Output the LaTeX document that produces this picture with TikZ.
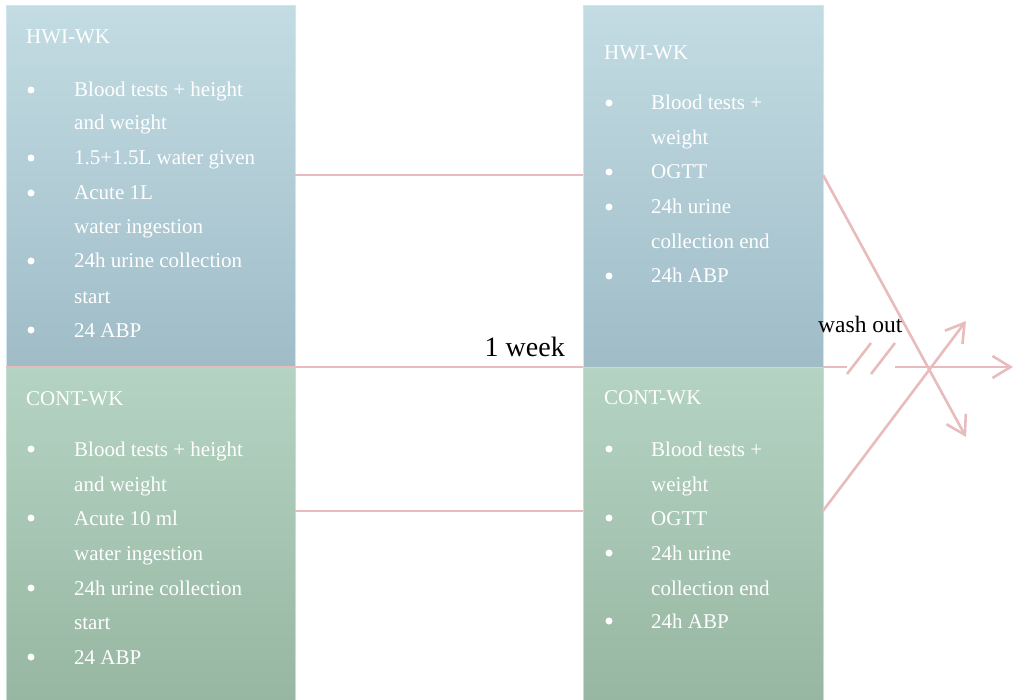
\documentclass[tikz,border=0pt]{standalone}
\usepackage{fontspec}
\setmainfont{Liberation Serif}
\usetikzlibrary{calc,arrows.meta}
\definecolor{blueT}{HTML}{C3DCE3}
\definecolor{blueB}{HTML}{9FBCC7}
\definecolor{blueE}{HTML}{CFE6EC}
\definecolor{greenT}{HTML}{B5D3C2}
\definecolor{greenB}{HTML}{97B7A2}
\definecolor{greenE}{HTML}{C4DFD0}
\definecolor{pinkline}{HTML}{E8BCBD}
\tikzset{
  blk/.style={anchor=north west,inner sep=0pt,outer sep=0pt,minimum width=#1},
  bluebox/.style={top color=blueT,bottom color=blueB,draw=blueE,line width=1pt,minimum height=361pt},
  greenbox/.style={top color=greenT,bottom color=greenB,draw=greenE,line width=1pt,minimum height=333pt},
  txt/.style={anchor=base west,inner sep=0pt,text=white,font=\fontsize{21}{25}\selectfont},
  bul/.style={circle,fill=white,inner sep=0pt,minimum size=7pt,anchor=center},
  link/.style={draw=pinkline,line width=2.6pt},
  tip/.style={-{Straight Barb[length=18pt,width=22pt,line width=2.6pt]}},
  lbl/.style={anchor=base west,inner sep=0pt,text=black}
}
\begin{document}
\begin{tikzpicture}[x=1pt,y=-1pt]
\useasboundingbox (0,0) rectangle (1016,700);
% boxes
\node[blk=289pt,bluebox] (hwiL) at (6,6) {};
\node[blk=289pt,greenbox] (contL) at (6,367) {};
\node[blk=240pt,bluebox] (hwiR) at (583,6) {};
\node[blk=240pt,greenbox] (contR) at (583,367) {};
% connectors
\draw[link] ($(hwiL.north east)!0.468!(hwiL.south east)$) -- ($(hwiR.north west)!0.468!(hwiR.south west)$);
\draw[link] (hwiL.south west) -- (hwiR.south west);
\draw[link] ($(contL.north east)!0.432!(contL.south east)$) -- ($(contR.north west)!0.432!(contR.south west)$);
\coordinate (a1) at ($(hwiR.north east)!0.468!(hwiR.south east)$);
\coordinate (a2) at ($(contR.north east)!0.432!(contR.south east)$);
\coordinate (e1) at (966,437);
\coordinate (e2) at (966,321);
\coordinate (g1) at (847,367);
\coordinate (g2) at (895,367);
\coordinate (e3) at (1013,367);
\coordinate (s1a) at (847,374);
\coordinate (s1b) at (871,343);
\coordinate (s2a) at (871,374);
\coordinate (s2b) at (895,343);
\draw[link,tip] (a1) -- (e1);
\draw[link,tip] (a2) -- (e2);
\draw[link] (hwiR.south east) -- (g1);
\draw[link] (s1a) -- (s1b);
\draw[link] (s2a) -- (s2b);
\draw[link,tip] (g2) -- (e3);
\node[lbl,font=\fontsize{28}{32}\selectfont,anchor=base east] (week) at (565,356) {1 week};
\node[lbl,font=\fontsize{23.5}{28}\selectfont] (wash) at (818,332) {wash out};
% left top text
\node[txt] (t1) at (26,44) {HWI-WK};
\foreach \y in {97,165,200,268,337} \node[bul] at (31,\y-7) {};
\node[txt] at (74,97) {Blood tests + height};
\node[txt] at (74,130) {and weight};
\node[txt] at (74,165) {1.5+1.5L water given};
\node[txt] at (74,200) {Acute 1L};
\node[txt] at (74,234) {water ingestion};
\node[txt] at (74,268) {24h urine collection};
\node[txt] at (74,303) {start};
\node[txt] at (74,337) {24 ABP};
% left bottom text
\node[txt] (t2) at (26,405) {CONT-WK};
\foreach \y in {456,525,595,664} \node[bul] at (31,\y-7) {};
\node[txt] at (74,456) {Blood tests + height};
\node[txt] at (74,491) {and weight};
\node[txt] at (74,525) {Acute 10 ml};
\node[txt] at (74,560) {water ingestion};
\node[txt] at (74,595) {24h urine collection};
\node[txt] at (74,629) {start};
\node[txt] at (74,664) {24 ABP};
% right top text
\node[txt] (t3) at (604,60) {HWI-WK};
\foreach \y in {110,179,214,283} \node[bul] at (609,\y-7) {};
\node[txt] at (651,110) {Blood tests +};
\node[txt] at (651,145) {weight};
\node[txt] at (651,179) {OGTT};
\node[txt] at (651,214) {24h urine};
\node[txt] at (651,249) {collection end};
\node[txt] at (651,283) {24h ABP};
% right bottom text
\node[txt] (t4) at (604,404) {CONT-WK};
\foreach \y in {456,525,560,628} \node[bul] at (609,\y-7) {};
\node[txt] at (651,456) {Blood tests +};
\node[txt] at (651,491) {weight};
\node[txt] at (651,525) {OGTT};
\node[txt] at (651,560) {24h urine};
\node[txt] at (651,595) {collection end};
\node[txt] at (651,628) {24h ABP};
\end{tikzpicture}
\end{document}
